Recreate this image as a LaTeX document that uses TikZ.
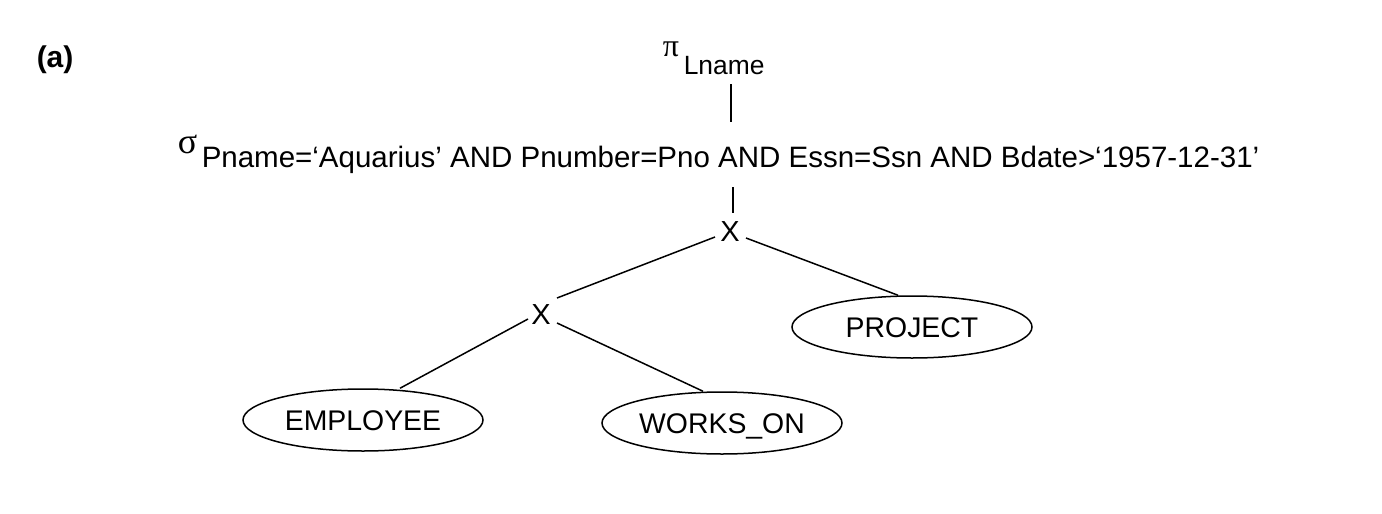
\documentclass[tikz,border=0pt]{standalone}
\usepackage{fontspec}
\setmainfont{Liberation Sans}
\newfontfamily\grk{Liberation Serif}
\usetikzlibrary{shapes.geometric}
\begin{document}
\begin{tikzpicture}[x=0.5pt,y=-0.5pt,line width=0.75pt,
  rel/.style={draw,ellipse,minimum width=120pt,minimum height=31pt,inner sep=0pt,
    font=\fontsize{14.2}{16}\selectfont,text height=10pt,text depth=0pt},
  op/.style={inner sep=0pt,font=\fontsize{14.5}{16}\selectfont,text height=10pt,text depth=0pt},
  lab/.style={inner sep=0pt,anchor=base west},
  edge/.style={draw,line width=0.75pt}]
\useasboundingbox (0,0) rectangle (1382,514);
% labels
\node[lab,font=\bfseries\fontsize{15}{17}\selectfont] (tag) at (36,68) {(a)};
\node[lab,font=\grk\fontsize{16}{18}\selectfont] (pi) at (662,56) {π};
\node[lab,font=\fontsize{13.2}{15}\selectfont] (lname) at (683,74) {Lname};
\node[lab,font=\grk\fontsize{18}{20}\selectfont] (sigma) at (177,153) {σ};
\node[lab,font=\fontsize{14.75}{17}\selectfont] (cond) at (201,167)
  {Pname=‘Aquarius’ AND Pnumber=Pno AND Essn=Ssn AND Bdate>‘1957-12-31’};
% operators
\node[op] (x1) at (730,231) {X};
\node[op] (x2) at (541,314) {X};
% relations
\node[rel] (emp) at (363,420) {EMPLOYEE};
\node[rel] (wo) at (722,423) {WORKS\_ON};
\node[rel] (proj) at (912,327) {PROJECT};
% connector ends
\coordinate (pd) at (731,84);
\coordinate (su) at (731,122);
\coordinate (sd) at (733,187);
\coordinate (x1u) at (733,213);
\coordinate (x1l) at (715,237);
\coordinate (x1r) at (746,238);
\coordinate (x2u) at (557,298);
\coordinate (x2l) at (528,319);
\coordinate (x2r) at (557,323);
% connectors
\draw[edge] (pd) -- (su);
\draw[edge] (sd) -- (x1u);
\draw[edge] (x1l) -- (x2u);
\draw[edge] (x1r) -- ([xshift=-7pt]proj.north);
\draw[edge] (x2l) -- ([xshift=18.5pt]emp.north);
\draw[edge] (x2r) -- ([xshift=-9.5pt]wo.north);
\end{tikzpicture}
\end{document}
